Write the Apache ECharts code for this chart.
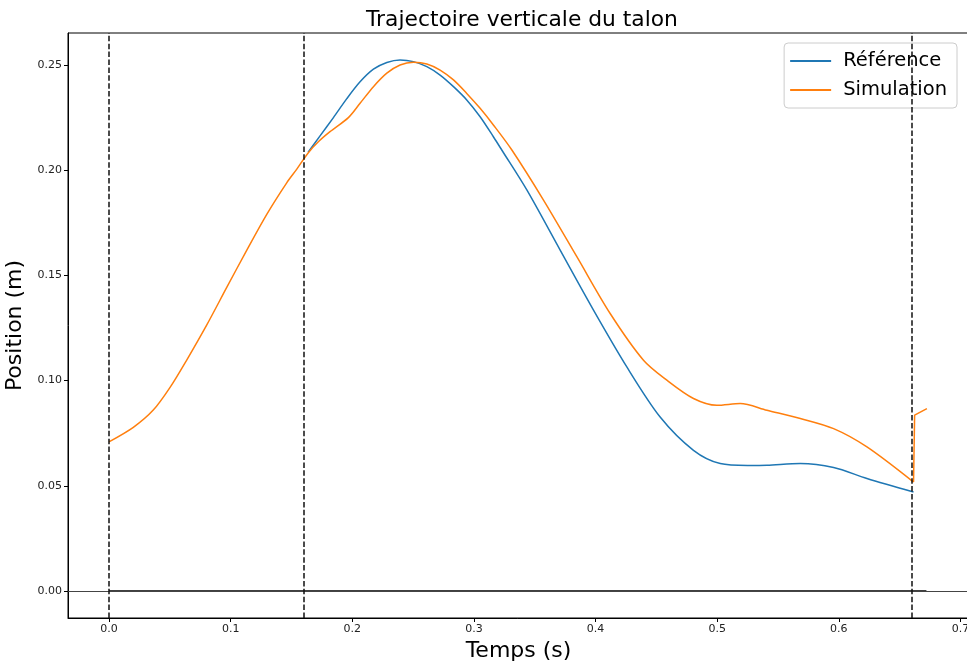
<!DOCTYPE html>
<html>
<head>
<meta charset="utf-8">
<script src="https://cdn.jsdelivr.net/npm/echarts@6/dist/echarts.min.js"></script>
<style>html,body{margin:0;padding:0;background:#fff}#c{width:967px;height:663px}</style>
</head>
<body>
<div id="c"></div>
<script>
// ---- data ----
const timeRef = [0.1637,0.1735,0.1845,0.1955,0.2064,0.2174,0.2284,0.2393,0.2503,0.2613,0.2722,0.2832,0.2941,0.3051,0.3160,0.3229,0.3435,0.3709,0.3983,0.4257,0.4531,0.4805,0.5025,0.5250,0.5409,0.5683,0.5957,0.6231,0.6614];
const posRef  = [0.2085,0.2163,0.2250,0.2340,0.2420,0.2480,0.2512,0.2524,0.2516,0.2492,0.2452,0.2397,0.2334,0.2254,0.2159,0.2096,0.1906,0.1620,0.1335,0.1065,0.0827,0.0669,0.0606,0.0597,0.0598,0.0606,0.0587,0.0535,0.0471];
const timeSim = [0,0.020,0.0364,0.0502,0.0639,0.0804,0.0968,0.1133,0.1297,0.1461,0.1544,0.1637,0.1721,0.1817,0.1968,0.2064,0.2174,0.2284,0.2393,0.2503,0.2613,0.2722,0.2832,0.2941,0.3051,0.3160,0.3312,0.3572,0.3846,0.4120,0.4394,0.4586,0.4805,0.4997,0.5189,0.5409,0.5683,0.5957,0.6231,0.6614];
const posSim  = [0.0709,0.0778,0.0860,0.0968,0.1098,0.1265,0.1443,0.1620,0.1790,0.1940,0.2005,0.2082,0.2135,0.2183,0.2250,0.2318,0.2397,0.2461,0.2500,0.2513,0.2505,0.2476,0.2429,0.2365,0.2294,0.2215,0.2096,0.1858,0.1589,0.1319,0.1097,0.1002,0.0915,0.0883,0.0891,0.0859,0.0820,0.0772,0.0685,0.0518];
const timeSimTail = [0.6614,0.6623,0.6724];
const posSimTail  = [0.0518,0.0836,0.0867];
const eventTimes = [0, 0.1637, 0.662];
const contactTime = [0, 0.672];
const contactPos = [0, 0];
const xTicks = [0,0.1,0.2,0.3,0.4,0.5,0.6,0.7];
const yTicks = [0,0.05,0.10,0.15,0.20,0.25];
const xRange = [-0.0337, 0.707];
const yRange = [-0.0128, 0.2652];

const zip = (a,b) => a.map((v,i)=>[v,b[i]]);
const FONT = 'DejaVu Sans';
const chart = echarts.init(document.getElementById('c'), null, {renderer:'canvas'});
chart.setOption({
  animation:false,
  backgroundColor:'#fff',
  title:{text:'Trajectoire verticale du talon', left:361, top:4,
    textStyle:{fontFamily:FONT, fontSize:21.8, fontWeight:'normal', color:'#000'}},
  legend:{
    data:['Référence','Simulation'], orient:'vertical', right:10, top:43,
    icon:'rect', itemWidth:41, itemHeight:2, itemGap:9,
    padding:[8,10,8,6], borderColor:'#ccc', borderWidth:1, borderRadius:4,
    backgroundColor:'rgba(255,255,255,0.8)',
    textStyle:{fontFamily:FONT, fontSize:19.5, color:'#000', padding:[0,0,0,7], lineHeight:20}
  },
  grid:{left:68, width:901, top:33, height:585, show:true, borderColor:'#000', borderWidth:1,
    containLabel:false, outerBoundsMode:'none'},
  xAxis:{type:'value', min:xRange[0], max:xRange[1],
    name:'Temps (s)', nameLocation:'middle', nameGap:22,
    nameTextStyle:{fontFamily:FONT, fontSize:22, color:'#000', verticalAlign:'top'},
    axisLine:{show:true, onZero:false, lineStyle:{color:'#000'}},
    axisTick:{show:true, length:4, customValues:xTicks, lineStyle:{color:'#000'}},
    axisLabel:{customValues:xTicks, fontFamily:FONT, fontSize:11, color:'#222', margin:6,
      formatter:v=>v.toFixed(1)},
    splitLine:{show:false}},
  yAxis:{type:'value', min:yRange[0], max:yRange[1],
    name:'Position (m)', nameLocation:'middle', nameGap:35, nameRotate:90,
    nameTextStyle:{fontFamily:FONT, fontSize:22, color:'#000'},
    axisLine:{show:true, onZero:false, lineStyle:{color:'#000'}},
    axisTick:{show:true, length:4, customValues:yTicks, lineStyle:{color:'#000'}},
    axisLabel:{customValues:yTicks, fontFamily:FONT, fontSize:11, color:'#222', margin:6,
      formatter:v=>v.toFixed(2)},
    splitLine:{show:false}},
  series:[
    {name:'contact', type:'line', data:zip(contactTime, contactPos), showSymbol:false,
      lineStyle:{color:'#000', width:1.5}, z:1,
      markLine:{silent:true, symbol:'none', label:{show:false},
        data:[{yAxis:0, lineStyle:{color:'#444', width:1, type:'solid'}}]
          .concat(eventTimes.map(t=>({xAxis:t, lineStyle:{color:'#111', width:1.5, type:[5.5,2.4]}})))}},
    {name:'Référence', type:'line', data:zip(timeRef,posRef), showSymbol:false, smooth:0.3,
      color:'#1f77b4', lineStyle:{color:'#1f77b4', width:1.5}, z:3},
    {name:'Simulation', type:'line', data:zip(timeSim,posSim), showSymbol:false, smooth:0.3,
      color:'#ff7f0e', lineStyle:{color:'#ff7f0e', width:1.5}, z:4},
    {name:'Simulation', type:'line', data:zip(timeSimTail,posSimTail), showSymbol:false, smooth:false,
      color:'#ff7f0e', lineStyle:{color:'#ff7f0e', width:1.5}, z:4}
  ]
});
</script>
</body>
</html>
